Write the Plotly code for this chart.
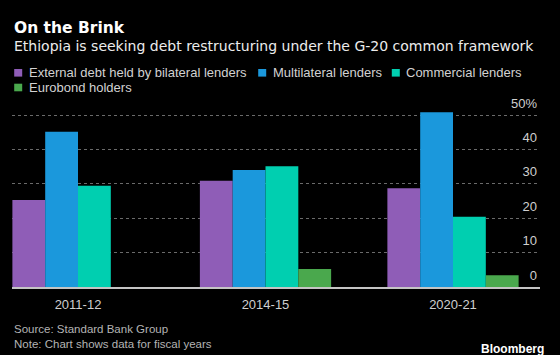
import plotly.graph_objects as go

# ---- data ----
periods = ["2011-12", "2014-15", "2020-21"]
series_names = [
    "External debt held by bilateral lenders",
    "Multilateral lenders",
    "Commercial lenders",
    "Eurobond holders",
]
bilateral = [25.3, 30.9, 28.7]
multilateral = [45.1, 34.0, 50.8]
commercial = [29.4, 35.1, 20.4]
eurobond = [0, 5.2, 3.4]
y_tickvals = [0, 10, 20, 30, 40, 50]
y_ticktext = ["0", "10", "20", "30", "40", "50%"]

colors = ["#8f5db7", "#1b98dc", "#00cfb0", "#4aa84d"]
values = [bilateral, multilateral, commercial, eurobond]

# ---- geometry (pixels) ----
W, H = 560, 355
L, R, T, B = 12, 540, 94, 287
PX_PER_UNIT = 3.44


def pxx(x):
    return (x - L) / (R - L)


def pxy(y):
    return (B - y) / (B - T)


fig = go.Figure()
for name, vals, col in zip(series_names, values, colors):
    fig.add_trace(go.Bar(x=periods, y=vals, name=name, marker_color=col,
                         marker_line_width=0, showlegend=False))

REG = "Liberation Sans, Arial, sans-serif"
DJ = "DejaVu Sans, sans-serif"

annotations = [
    dict(text="<b>On the Brink</b>", x=pxx(12), y=pxy(27.5), xref="paper", yref="paper",
         xanchor="left", yanchor="middle", showarrow=False,
         font=dict(family=DJ, size=15.5, color="#ffffff")),
    dict(text="Ethiopia is seeking debt restructuring under the G-20 common framework",
         x=pxx(12), y=pxy(45.5), xref="paper", yref="paper",
         xanchor="left", yanchor="middle", showarrow=False,
         font=dict(family=DJ, size=14, color="#ececec")),
    dict(text="Source: Standard Bank Group", x=pxx(12), y=pxy(328.5), xref="paper", yref="paper",
         xanchor="left", yanchor="middle", showarrow=False,
         font=dict(family=REG, size=11.5, color="#b4b4b4")),
    dict(text="Note: Chart shows data for fiscal years", x=pxx(12), y=pxy(343.5), xref="paper",
         yref="paper", xanchor="left", yanchor="middle", showarrow=False,
         font=dict(family=REG, size=11.5, color="#b4b4b4")),
    dict(text="<b>Bloomberg</b>", x=pxx(546), y=pxy(348.5), xref="paper", yref="paper",
         xanchor="right", yanchor="middle", showarrow=False,
         font=dict(family=REG, size=12, color="#ffffff")),
]

# legend built as annotations + squares
legend_pos = [(26.7, 72.8), (270.7, 72.8), (404.3, 72.8), (26.7, 87.5)]
shapes = []
for (tx, ty), name, col in zip(legend_pos, series_names, colors):
    annotations.append(dict(text=name, x=pxx(tx), y=pxy(ty), xref="paper", yref="paper",
                            xanchor="left", yanchor="middle", showarrow=False,
                            font=dict(family=REG, size=13, color="#d2d2d2")))
    shapes.append(dict(type="rect", xref="paper", yref="paper",
                       x0=pxx(tx - 12.5), x1=pxx(tx - 4.5),
                       y0=pxy(ty - 3.8), y1=pxy(ty + 3.8),
                       fillcolor=col, line_width=0))

spacing = 187.5
fig.update_layout(
    width=W, height=H,
    paper_bgcolor="#000000", plot_bgcolor="#000000",
    margin=dict(l=L, r=W - R, t=T, b=H - B, pad=0),
    barmode="group", bargap=0.30, bargroupgap=0,
    showlegend=False,
    annotations=annotations,
    shapes=shapes,
    xaxis=dict(
        type="category",
        range=[-(78 - L) / spacing, 2 + (R - 453) / spacing],
        showline=True, linecolor="#c4c4c4", linewidth=1.5,
        showgrid=False, zeroline=False,
        ticks="outside", ticklen=5, tickcolor="rgba(0,0,0,0)",
        tickfont=dict(family=REG, size=13, color="#cfcfcf"),
        fixedrange=True, automargin=False,
    ),
    yaxis=dict(
        range=[0, (B - T) / PX_PER_UNIT], side="right",
        tickvals=y_tickvals, ticktext=y_ticktext,
        ticklabelposition="inside", ticklabelshift=-12, ticklabelstandoff=0,
        showgrid=True, gridcolor="#6a6a6a", griddash="dot", gridwidth=1,
        zeroline=False, showline=False, ticks="",
        tickfont=dict(family=REG, size=13, color="#cfcfcf"),
        fixedrange=True, automargin=False,
    ),
)

fig.write_html(
    "out.html",
    config={"displayModeBar": False},
    post_script="document.body.style.margin='0';document.body.style.background='#000';",
)
